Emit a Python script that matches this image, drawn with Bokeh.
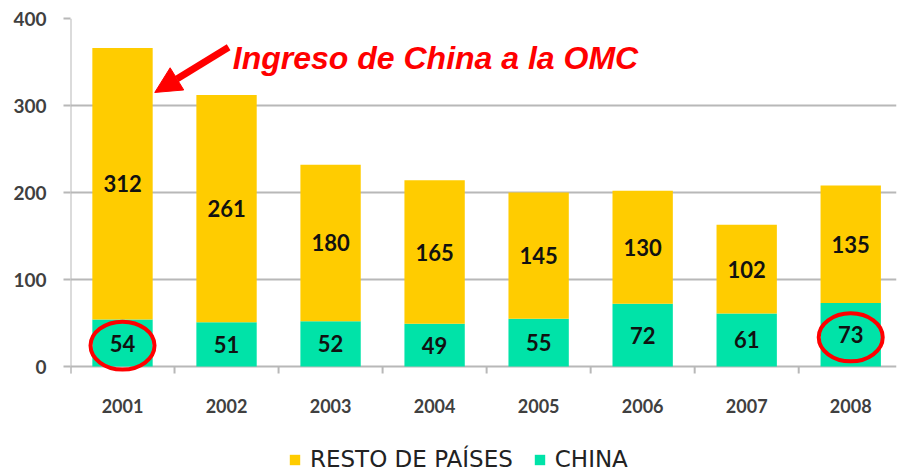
from bokeh.plotting import figure
from bokeh.models import (ColumnDataSource, FixedTicker, Legend, LegendItem,
                          Arrow, NormalHead, Label)
from bokeh.embed import file_html
from bokeh.resources import INLINE

# ---- data ----
years = ["2001", "2002", "2003", "2004", "2005", "2006", "2007", "2008"]
china = [54, 51, 52, 49, 55, 72, 61, 73]
resto = [312, 261, 180, 165, 145, 130, 102, 135]
series_names = ["RESTO DE PAÍSES", "CHINA"]
y_ticks = [0, 100, 200, 300, 400]
annotation_text = "Ingreso de China a la OMC"
highlight_years = ["2001", "2008"]

# ---- styling ----
YELLOW = "#FFCC00"
GREEN = "#00E3A8"
GRID = "#b8b8b8"
RED = "#FF0000"
NUM_FONT = "Lato"
PX_PER_UNIT = 0.87          # vertical scale (pixels per value unit)
FRAME_H = 454

xs = list(range(1, len(years) + 1))
total = [c + r for c, r in zip(china, resto)]
y_top = max(y_ticks)
y_bottom = y_top - FRAME_H / PX_PER_UNIT   # room below 0 for year labels + legend
tick_len = 7 / PX_PER_UNIT
label_y = -39 / PX_PER_UNIT

src = ColumnDataSource(dict(
    x=xs, year=years, china=china, resto=resto, total=total,
    china_mid=[c / 2 for c in china],
    resto_mid=[c + r / 2 for c, r in zip(china, resto)],
    china_lbl=[str(c) for c in china],
    resto_lbl=[str(r) for r in resto],
    year_y=[label_y] * len(years),
))

p = figure(width=897, height=472, x_range=(0.5, 8.44), y_range=(y_bottom, y_top),
           output_backend="svg", toolbar_location=None,
           min_border_left=70, min_border_right=1, min_border_top=18,
           min_border_bottom=0)
p.outline_line_color = None
p.background_fill_color = "white"
p.border_fill_color = "white"

china_r = p.vbar(x="x", bottom=0, top="china", width=0.58, fill_color=GREEN,
                 line_color=None, source=src)
resto_r = p.vbar(x="x", bottom="china", top="total", width=0.58,
                 fill_color=YELLOW, line_color=None, source=src)

# value labels
for ycol, tcol in (("china_mid", "china_lbl"), ("resto_mid", "resto_lbl")):
    p.text(x="x", y=ycol, text=tcol, source=src, text_align="center",
           text_baseline="middle", text_font={"value": NUM_FONT},
           text_font_style="bold", text_font_size="22px", text_color="#111111")

# grid
p.xgrid.visible = False
p.ygrid.grid_line_color = GRID
p.ygrid.grid_line_width = 2
p.ygrid.ticker = FixedTicker(ticks=y_ticks)

# y axis (line drawn only over the value range)
p.yaxis.ticker = FixedTicker(ticks=y_ticks)
p.yaxis.axis_line_color = None
p.yaxis.major_tick_line_color = GRID
p.yaxis.major_tick_line_width = 2
p.yaxis.major_tick_out = 7
p.yaxis.major_tick_in = 0
p.yaxis.minor_tick_line_color = None
p.yaxis.major_label_text_font = NUM_FONT
p.yaxis.major_label_text_font_style = "bold"
p.yaxis.major_label_text_font_size = "19px"
p.yaxis.major_label_text_color = "#404040"
p.yaxis.major_label_standoff = 17

# category axis: baseline ticks at category boundaries + year labels
p.xaxis.visible = False
bounds = [x - 0.5 for x in xs] + [xs[-1] + 0.5]
p.segment(x0=[bounds[0]], y0=[-tick_len], x1=[bounds[0]], y1=[y_top],
          line_color=GRID, line_width=2)
p.segment(x0=bounds, y0=[0] * len(bounds), x1=bounds, y1=[-tick_len] * len(bounds),
          line_color=GRID, line_width=2)
p.text(x="x", y="year_y", text="year", source=src, text_align="center",
       text_baseline="middle", text_font={"value": NUM_FONT},
       text_font_style="bold", text_font_size="18px", text_color="#404040")

# highlight ellipses
hi_idx = [years.index(y) for y in highlight_years]
hsrc = ColumnDataSource(dict(x=[xs[i] for i in hi_idx],
                             y=[china[i] / 2 - 3 for i in hi_idx]))
p.ellipse(x="x", y="y", width=64, height=48, width_units="screen",
          height_units="screen", source=hsrc, fill_color=None,
          line_color=RED, line_width=4)

# annotation text + arrow
first = xs[years.index("2001")]
p.add_layout(Label(x=first + 1.06, y=355, text=annotation_text,
                   text_font="Liberation Sans", text_font_style="bold italic",
                   text_font_size="32px", text_color=RED,
                   text_baseline="alphabetic"))
p.add_layout(Arrow(end=NormalHead(size=26, fill_color=RED, line_color=RED),
                   x_start=first + 1.02, y_start=367,
                   x_end=first + 0.31, y_end=315,
                   line_color=RED, line_width=7))

legend = Legend(items=[LegendItem(label=series_names[0], renderers=[resto_r]),
                       LegendItem(label=series_names[1], renderers=[china_r])],
                orientation="horizontal", location=(218, 0),
                label_text_font="DejaVu Sans", label_text_font_size="23px",
                label_text_color="#222222", glyph_width=13, glyph_height=13,
                label_standoff=9, spacing=20, border_line_color=None,
                background_fill_alpha=0, margin=0, padding=0)
p.add_layout(legend)

open("out.html", "w").write(file_html(p, INLINE))
